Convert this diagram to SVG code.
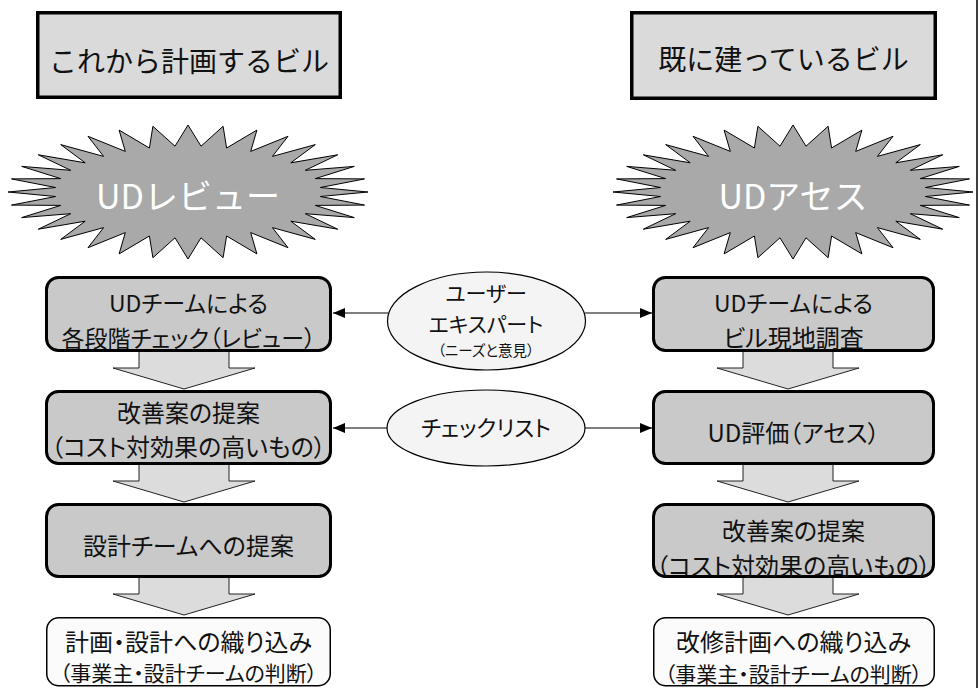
<svg xmlns="http://www.w3.org/2000/svg" width="980" height="688" viewBox="0 0 980 688">
<style>
  text { font-family: "Noto Sans CJK JP", "Noto Sans", sans-serif; fill: #111; text-anchor: middle; }
  .p { font-feature-settings: "palt" 1; }
  .title { fill: #dadada; stroke: #000; stroke-width: 3.5; }
  .t28 { font-size: 28px; }
  .burst { fill: #a9a9a9; stroke: #000; stroke-width: 1; stroke-linejoin: miter; }
  .bt { font-size: 34px; fill: #fff; }
  .box { fill: #c9c9c9; stroke: #000; stroke-width: 3; }
  .wbox { fill: #fbfbfb; stroke: #000; stroke-width: 1.5; }
  .blk { fill: #dcdcdc; stroke: #222; stroke-width: 1; }
  .ell { fill: #f4f4f4; stroke: #000; stroke-width: 1.2; }
  .t24 { font-size: 24px; }
  .t23 { font-size: 23px; }
  .t21 { font-size: 21px; }
  .t22 { font-size: 22px; }
  .t15 { font-size: 14.5px; }
  .con { stroke: #000; stroke-width: 1.2; fill: none; marker-end: url(#ah); }
</style>
<defs>
  <marker id="ah" markerUnits="userSpaceOnUse" markerWidth="12" markerHeight="10" refX="12" refY="5" orient="auto">
    <path d="M0,0 L12,5 L0,10 Z" fill="#000"/>
  </marker>
  <polygon id="star" points="180,0 132.4,-4.5 176.5,-13.1 127.3,-13.4 166.3,-25.6 117.3,-21.7 149.7,-37.2 102.8,-29.2 127.3,-47.4 84.4,-35.6 100,-55.7 62.7,-40.6 68.9,-61.9 38.6,-44 35.1,-65.7 13,-45.8 0,-67 -13,-45.8 -35.1,-65.7 -38.6,-44 -68.9,-61.9 -62.7,-40.6 -100,-55.7 -84.4,-35.6 -127.3,-47.4 -102.8,-29.2 -149.7,-37.2 -117.3,-21.7 -166.3,-25.6 -127.3,-13.4 -176.5,-13.1 -132.4,-4.5 -180,0 -132.4,4.5 -176.5,13.1 -127.3,13.4 -166.3,25.6 -117.3,21.7 -149.7,37.2 -102.8,29.2 -127.3,47.4 -84.4,35.6 -100,55.7 -62.7,40.6 -68.9,61.9 -38.6,44 -35.1,65.7 -13,45.8 0,67 13,45.8 35.1,65.7 38.6,44 68.9,61.9 62.7,40.6 100,55.7 84.4,35.6 127.3,47.4 102.8,29.2 149.7,37.2 117.3,21.7 166.3,25.6 127.3,13.4 176.5,13.1 132.4,4.5"/>
  <path id="down" d="M-45,0 L45,0 L45,17 L71,17 L0,38 L-71,17 L-45,17 Z"/>
</defs>

<rect x="0" y="0" width="980" height="688" fill="#fff"/>
<line x1="977" y1="0" x2="977" y2="688" stroke="#000" stroke-width="1.5"/>

<!-- titles -->
<g id="title-left">
  <rect class="title" x="37.75" y="12.75" width="302.5" height="84.5"/>
  <text class="t28" x="189" y="72">これから計画するビル</text>
</g>
<g id="title-right">
  <rect class="title" x="631.75" y="12.75" width="303.5" height="85.5"/>
  <text class="t28" x="783.5" y="70">既に建っているビル</text>
</g>

<!-- starbursts -->
<g id="burst-left">
  <use href="#star" class="burst" transform="translate(188,192)"/>
  <text class="bt" x="188" y="209">UDレビュー</text>
</g>
<g id="burst-right">
  <use href="#star" class="burst" transform="translate(793,192)"/>
  <text class="bt" x="793" y="209">UDアセス</text>
</g>

<!-- block arrows (flow) -->
<g id="flow-arrows">
  <use href="#down" class="blk" transform="translate(184,351)"/>
  <use href="#down" class="blk" transform="translate(184,464)"/>
  <use href="#down" class="blk" transform="translate(184,577)"/>
  <use href="#down" class="blk" transform="translate(788,351)"/>
  <use href="#down" class="blk" transform="translate(788,464)"/>
  <use href="#down" class="blk" transform="translate(788,577)"/>
</g>

<!-- left column -->
<g id="L1">
  <rect class="box" x="46.5" y="277.5" width="284" height="73" rx="12"/>
  <text class="t23 p" x="188.5" y="312">UDチームによる</text>
  <text class="t23 p" x="188.5" y="347">各段階チェック（レビュー）</text>
</g>
<g id="L2">
  <rect class="box" x="46.5" y="391.5" width="284" height="72" rx="12"/>
  <text class="t24 p" x="188.5" y="422">改善案の提案</text>
  <text class="t24 p" x="188.5" y="456">（コスト対効果の高いもの）</text>
</g>
<g id="L3">
  <rect class="box" x="46.5" y="504.5" width="284" height="72" rx="12"/>
  <text class="t24 p" x="188.5" y="555">設計チームへの提案</text>
</g>
<g id="L4">
  <rect class="wbox" x="46.75" y="617.75" width="283.5" height="68" rx="12"/>
  <text class="t24 p" x="188.5" y="651">計画・設計への織り込み</text>
  <text class="t21 p" x="188.5" y="681">（事業主・設計チームの判断）</text>
</g>

<!-- right column -->
<g id="R1">
  <rect class="box" x="653.5" y="277.5" width="280" height="73" rx="12"/>
  <text class="t23 p" x="793.5" y="312">UDチームによる</text>
  <text class="t24 p" x="793.5" y="347">ビル現地調査</text>
</g>
<g id="R2">
  <rect class="box" x="653.5" y="391.5" width="280" height="72" rx="12"/>
  <text class="t24 p" x="793.5" y="442">UD評価（アセス）</text>
</g>
<g id="R3">
  <rect class="box" x="653.5" y="504.5" width="280" height="72" rx="12"/>
  <text class="t24 p" x="793.5" y="540">改善案の提案</text>
  <text class="t24 p" x="793.5" y="575">（コスト対効果の高いもの）</text>
</g>
<g id="R4">
  <rect class="wbox" x="653.75" y="617.75" width="280.5" height="68" rx="12"/>
  <text class="t24 p" x="793.5" y="651">改修計画への織り込み</text>
  <text class="t21 p" x="793.5" y="682">（事業主・設計チームの判断）</text>
</g>

<!-- middle ellipses -->
<g id="user-expert">
  <ellipse class="ell" cx="486.5" cy="321" rx="99" ry="49"/>
  <text class="t21 p" x="486" y="301">ユーザー</text>
  <text class="t21 p" x="486" y="332">エキスパート</text>
  <text class="t15 p" x="486" y="356">（ニーズと意見）</text>
</g>
<g id="checklist">
  <ellipse class="ell" cx="486" cy="428" rx="99" ry="38"/>
  <text class="t22 p" x="486" y="436">チェックリスト</text>
</g>

<!-- connectors -->
<g id="connectors">
  <line class="con" x1="388" y1="313" x2="333" y2="313"/>
  <line class="con" x1="585" y1="313" x2="652" y2="313"/>
  <line class="con" x1="387" y1="428" x2="333" y2="428"/>
  <line class="con" x1="585" y1="428" x2="652" y2="428"/>
</g>
</svg>
